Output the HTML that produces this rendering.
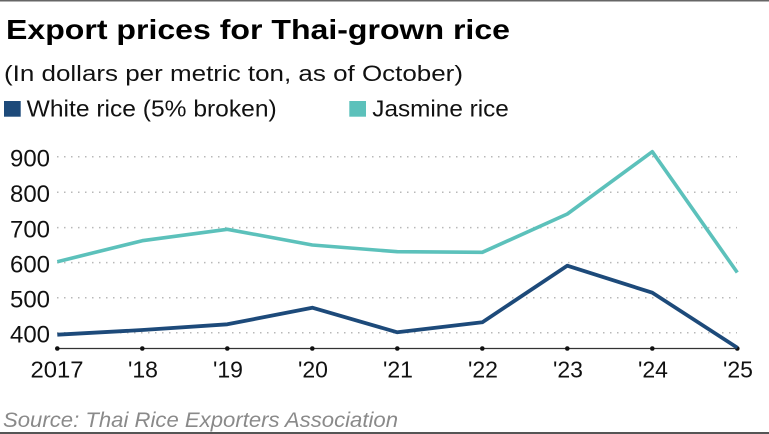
<!DOCTYPE html>
<html>
<head>
<meta charset="utf-8">
<style>
  html,body{margin:0;padding:0;background:#fff;}
  svg{display:block;}
  text{font-family:"Liberation Sans",Arial,sans-serif;}
</style>
</head>
<body>
<svg width="769" height="434" viewBox="0 0 769 434" xmlns="http://www.w3.org/2000/svg">
  <rect x="0" y="0" width="769" height="434" fill="#fff"/>
  <!-- top and bottom rules -->
  <rect x="0" y="0" width="769" height="1.5" fill="#666"/>
  <rect x="0" y="432" width="769" height="2" fill="#555"/>

  <!-- title / subtitle -->
  <text x="6" y="39" font-size="28" font-weight="bold" fill="#000" textLength="504" lengthAdjust="spacingAndGlyphs">Export prices for Thai-grown rice</text>
  <text x="4" y="81" font-size="22" fill="#111" textLength="459" lengthAdjust="spacingAndGlyphs">(In dollars per metric ton, as of October)</text>

  <!-- legend -->
  <rect x="4" y="101" width="16.7" height="15.7" fill="#1d4a7a"/>
  <text x="26.7" y="116.7" font-size="23" fill="#111" textLength="250" lengthAdjust="spacingAndGlyphs">White rice (5% broken)</text>
  <rect x="349.3" y="101" width="16.7" height="15.7" fill="#5cc1bb"/>
  <text x="372.3" y="116.7" font-size="23" fill="#111" textLength="136.5" lengthAdjust="spacingAndGlyphs">Jasmine rice</text>

  <!-- gridlines -->
  <g stroke="#b8b8b8" stroke-width="1.5" stroke-dasharray="1.5 5.5" fill="none">
    <line x1="57" y1="156.7" x2="737" y2="156.7"/>
    <line x1="57" y1="192.2" x2="737" y2="192.2"/>
    <line x1="57" y1="227.6" x2="737" y2="227.6"/>
    <line x1="57" y1="262.6" x2="737" y2="262.6"/>
    <line x1="57" y1="297.7" x2="737" y2="297.7"/>
    <line x1="57" y1="332.7" x2="737" y2="332.7"/>
  </g>

  <!-- y labels -->
  <g font-size="24" fill="#111" text-anchor="end">
    <text x="50" y="166.5" textLength="40" lengthAdjust="spacingAndGlyphs">900</text>
    <text x="50" y="202" textLength="40" lengthAdjust="spacingAndGlyphs">800</text>
    <text x="50" y="237.4" textLength="40" lengthAdjust="spacingAndGlyphs">700</text>
    <text x="50" y="272.4" textLength="40" lengthAdjust="spacingAndGlyphs">600</text>
    <text x="50" y="307.5" textLength="40" lengthAdjust="spacingAndGlyphs">500</text>
    <text x="50" y="342.5" textLength="40" lengthAdjust="spacingAndGlyphs">400</text>
  </g>

  <!-- x axis -->
  <line x1="57.3" y1="348.5" x2="737.7" y2="348.5" stroke="#333" stroke-width="1.2"/>
  <g fill="#111">
    <circle cx="57.3" cy="348.5" r="2.3"/>
    <circle cx="142.3" cy="348.5" r="2.3"/>
    <circle cx="227.3" cy="348.5" r="2.3"/>
    <circle cx="312.3" cy="348.5" r="2.3"/>
    <circle cx="397.3" cy="348.5" r="2.3"/>
    <circle cx="482.3" cy="348.5" r="2.3"/>
    <circle cx="567.3" cy="348.5" r="2.3"/>
    <circle cx="652.3" cy="348.5" r="2.3"/>
    <circle cx="737.3" cy="348.5" r="2.3"/>
  </g>

  <!-- series -->
  <polyline fill="none" stroke="#5cc1bb" stroke-width="3.6" stroke-linejoin="round"
    points="57.3,261.7 142.3,240.7 227.3,229.3 312.3,245 397.3,251.7 482.3,252.3 567.3,214 652.3,151.7 737.3,272.5"/>
  <polyline fill="none" stroke="#1d4a7a" stroke-width="3.8" stroke-linejoin="round"
    points="57.3,334.7 142.3,330 227.3,324.3 312.3,307.7 397.3,332.3 482.3,322.3 567.3,265.7 652.3,292.7 737.3,347.7"/>

  <!-- x labels -->
  <g font-size="23" fill="#111" text-anchor="middle">
    <text x="57" y="377.3" textLength="53" lengthAdjust="spacingAndGlyphs">2017</text>
    <text x="143" y="377.3">'18</text>
    <text x="228" y="377.3">'19</text>
    <text x="313" y="377.3">'20</text>
    <text x="398" y="377.3">'21</text>
    <text x="483" y="377.3">'22</text>
    <text x="568" y="377.3">'23</text>
    <text x="653" y="377.3">'24</text>
    <text x="738" y="377.3">'25</text>
  </g>

  <!-- source -->
  <text x="3" y="427" font-size="21" font-style="italic" fill="#8a8a8a" textLength="395" lengthAdjust="spacingAndGlyphs">Source: Thai Rice Exporters Association</text>
</svg>
</body>
</html>
